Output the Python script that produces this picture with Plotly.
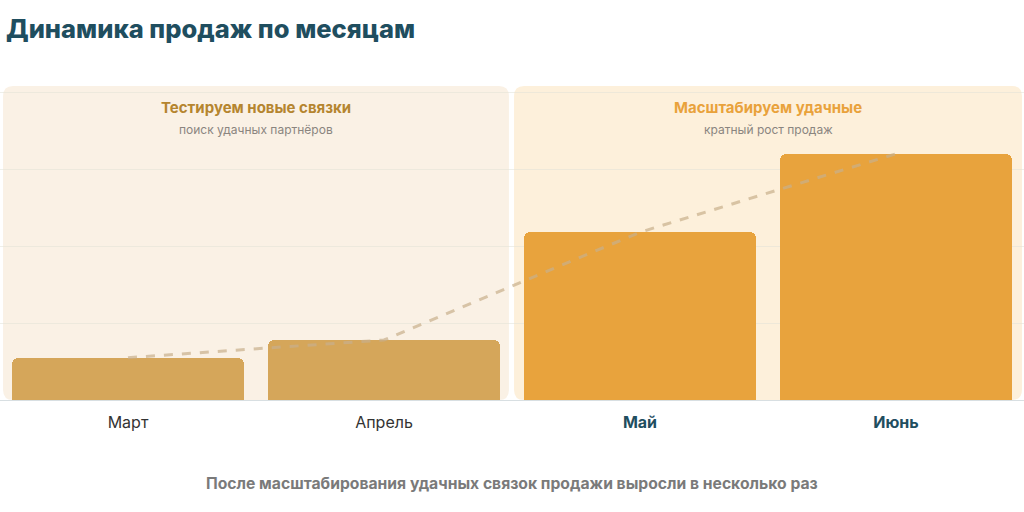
import plotly.graph_objects as go

# data
months = ["Март", "Апрель", "Май", "Июнь"]
sales = [55, 78, 218, 320]
phase_titles = ["Тестируем новые связки", "Масштабируем удачные"]
phase_notes = ["поиск удачных партнёров", "кратный рост продаж"]
tick_labels = [
    "Март",
    "Апрель",
    "<b><span style='color:#1f4e5f'>Май</span></b>",
    "<b><span style='color:#1f4e5f'>Июнь</span></b>",
]

bar_colors = ["#d5a65a", "#d5a65a", "#e8a33d", "#e8a33d"]
FONT = "Inter, Roboto, sans-serif"


def rounded_rect(x0, y0, x1, y1, rx, ry):
    # rounded rectangle path, x in data units, y in paper units
    return (f"M{x0+rx},{y0} L{x1-rx},{y0} Q{x1},{y0} {x1},{y0+ry} "
            f"L{x1},{y1-ry} Q{x1},{y1} {x1-rx},{y1} L{x0+rx},{y1} "
            f"Q{x0},{y1} {x0},{y1-ry} L{x0},{y0+ry} Q{x0},{y0} {x0+rx},{y0} Z")


def main():
    fig = go.Figure()
    xs = list(range(len(months)))

    fig.add_trace(go.Bar(
        x=xs, y=sales, width=0.906,
        marker=dict(color=bar_colors, cornerradius=6, line=dict(width=0)),
        hoverinfo="skip", showlegend=False,
    ))
    fig.add_trace(go.Scatter(
        x=xs, y=sales, mode="lines",
        line=dict(color="rgba(200,175,140,0.7)", width=3, dash="dash"),
        hoverinfo="skip", showlegend=False,
    ))

    # background panels
    panels = [(-0.488, 1.488, "#faf1e5"), (1.508, 3.492, "#fdf0db")]
    for x0, x1, col in panels:
        fig.add_shape(type="path", xref="x", yref="paper",
                      path=rounded_rect(x0, 0, x1, 1.0, 10 / 256, 10 / 314),
                      fillcolor=col, line=dict(width=0), layer="below")

    fig.update_layout(
        width=1024, height=512,
        margin=dict(l=0, r=0, t=86, b=112),
        paper_bgcolor="white", plot_bgcolor="rgba(0,0,0,0)",
        bargap=0,
        font=dict(family=FONT),
        xaxis=dict(range=[-0.5, 3.5], tickvals=xs, ticktext=tick_labels,
                   tickfont=dict(family=FONT, size=16, color="#333333"),
                   showgrid=False, zeroline=False, showline=True,
                   linecolor="#d8dfe2", linewidth=1, ticks="",
                   ticklabelstandoff=8, fixedrange=True),
        yaxis=dict(range=[0, 408], dtick=100, showticklabels=False,
                   showgrid=True, gridcolor="rgba(225,225,215,0.55)",
                   zeroline=False, fixedrange=True),
    )

    head_colors = ["#b5852f", "#e9a23b"]
    for i, (t, n) in enumerate(zip(phase_titles, phase_notes)):
        cx = 0.5 + 2 * i
        fig.add_annotation(x=cx, xref="x", y=(400 - 107) / 314, yref="paper",
                           yanchor="middle", text=f"<b>{t}</b>", showarrow=False,
                           font=dict(family=FONT, size=15, color=head_colors[i]))
        fig.add_annotation(x=cx, xref="x", y=(400 - 129) / 314, yref="paper",
                           yanchor="middle", text=n, showarrow=False,
                           font=dict(family=FONT, size=12, color="#8a8580"))

    fig.add_annotation(x=0.004, xref="paper", xanchor="left",
                       y=(400 - 28) / 314, yref="paper", yanchor="middle",
                       text="Динамика продаж по месяцам", showarrow=False,
                       font=dict(family=FONT, size=25.5, color="#1f4e5f", weight=800))
    fig.add_annotation(x=0.5, xref="paper", y=(400 - 483) / 314, yref="paper",
                       yanchor="middle",
                       text="<b>После масштабирования удачных связок продажи выросли в несколько раз</b>",
                       showarrow=False,
                       font=dict(family=FONT, size=15.7, color="#7a7a7a"))

    fig.write_html("out.html", config={"displayModeBar": False},
                   post_script="document.body.style.margin='0';")


if __name__ == "__main__":
    main()
